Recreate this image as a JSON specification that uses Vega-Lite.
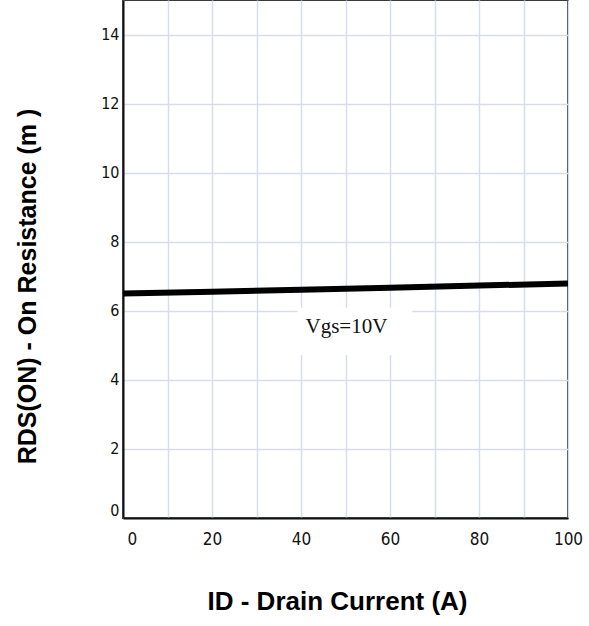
{
  "$schema": "https://vega.github.io/schema/vega-lite/v6.json",
  "width": 445,
  "height": 518,
  "autosize": "none",
  "padding": {"left": 123, "top": 0, "right": 21, "bottom": 108},
  "background": "white",
  "config": {
    "view": {"stroke": "#3a3a3a", "strokeWidth": 2},
    "axis": {
      "grid": true,
      "gridColor": "#d6ddec",
      "gridWidth": 1.5,
      "gridOpacity": 1,
      "domainColor": "#111111",
      "domainWidth": 2,
      "ticks": false,
      "labelFont": "DejaVu Sans Condensed, DejaVu Sans, sans-serif",
      "labelColor": "#111111",
      "titleFont": "Liberation Sans, Arial, sans-serif",
      "titleFontWeight": "bold",
      "titleColor": "#000000"
    }
  },
  "layer": [
    {
      "data": {"values": [{"x1": 39.2, "x2": 65, "y1": 4.72, "y2": 6.09}]},
      "mark": {"type": "rect", "fill": "white", "stroke": null},
      "encoding": {
        "x": {"field": "x1", "type": "quantitative", "scale": {"domain": [0, 100], "nice": false, "zero": false},
          "axis": {
            "values": [0, 10, 20, 30, 40, 50, 60, 70, 80, 90, 100],
            "labelExpr": "datum.value % 20 === 0 ? datum.label : ''",
            "labelFontSize": 17,
            "labelPadding": 13,
            "labelFlush": false,
            "labelAlign": {"expr": "datum.value === 0 ? 'left' : 'center'"},
            "labelOffset": {"expr": "datum.value === 0 ? 4 : 0"},
            "title": "ID - Drain Current (A)",
            "titleFontSize": 26,
            "titleBaseline": "middle",
            "titleX": 214,
            "titleY": 83
          }
        },
        "x2": {"field": "x2"},
        "y": {"field": "y1", "type": "quantitative", "scale": {"domain": [0, 15], "nice": false, "zero": false},
          "axis": {
            "values": [0, 1, 2, 3, 4, 5, 6, 7, 8, 9, 10, 11, 12, 13, 14, 15],
            "labelExpr": "datum.value % 2 === 0 && datum.value < 15 ? datum.label : ''",
            "labelFontSize": 16,
            "labelPadding": 4,
            "labelFlush": true,
            "title": "RDS(ON) - On Resistance (m   )",
            "titleFontSize": 25,
            "titleAngle": -90,
            "titleBaseline": "middle",
            "titleAlign": "center",
            "titleX": -96,
            "titleY": 286
          }
        },
        "y2": {"field": "y2"}
      }
    },
    {
      "data": {"values": [
        {"id": 0, "r": 6.5},
        {"id": 20, "r": 6.55},
        {"id": 40, "r": 6.61},
        {"id": 60, "r": 6.67},
        {"id": 80, "r": 6.73},
        {"id": 100, "r": 6.79}
      ]},
      "mark": {"type": "line", "color": "#000000", "strokeWidth": 6, "clip": true},
      "encoding": {
        "x": {"field": "id", "type": "quantitative"},
        "y": {"field": "r", "type": "quantitative"}
      }
    },
    {
      "data": {"values": [{"x": 50.2, "y": 5.54, "label": "Vgs=10V"}]},
      "mark": {"type": "text", "font": "Liberation Serif, Times New Roman, serif", "fontSize": 21, "color": "#111111", "baseline": "middle", "align": "center"},
      "encoding": {
        "x": {"field": "x", "type": "quantitative"},
        "y": {"field": "y", "type": "quantitative"},
        "text": {"field": "label"}
      }
    }
  ]
}
